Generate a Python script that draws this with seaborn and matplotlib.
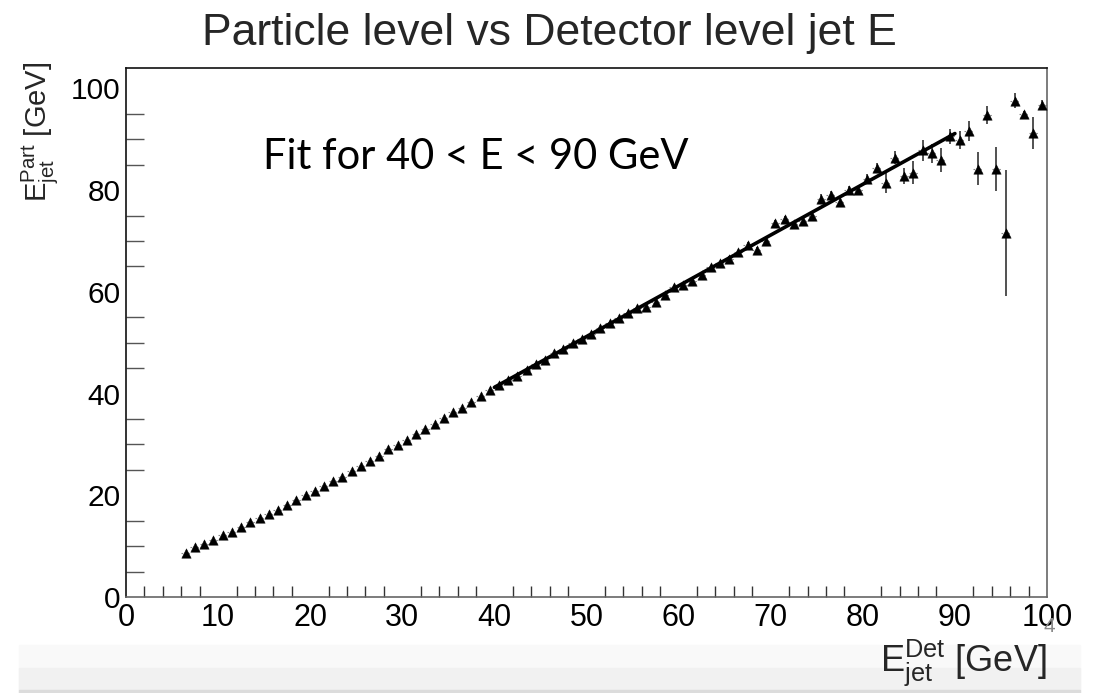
import numpy as np
import pandas as pd
import matplotlib
matplotlib.use("Agg")
import matplotlib.pyplot as plt
from matplotlib.patches import Rectangle
from matplotlib.ticker import MultipleLocator
import seaborn as sns

# ---------------- data ----------------
e_det = [6.5 + i for i in range(94)]  # bin centres, 1 GeV bins, 6.5 ... 99.5
e_part = [
    8.7, 9.9, 10.4, 11.2, 12.2, 12.8, 13.8, 14.7, 15.5, 16.3,
    17.2, 18.1, 19.1, 20.0, 20.9, 21.8, 22.8, 23.6, 24.8, 25.7,
    26.8, 27.8, 29.0, 29.9, 30.8, 32.0, 33.0, 34.0, 35.1, 36.3,
    37.2, 38.4, 39.5, 40.7, 41.7, 42.6, 43.5, 44.7, 45.8, 46.6,
    47.9, 48.8, 49.9, 50.8, 51.8, 52.8, 53.9, 54.8, 55.9, 56.9,
    57.0, 58.0, 59.3, 60.9, 61.3, 62.2, 63.4, 64.8, 65.6, 66.5,
    67.8, 69.2, 68.2, 70.0, 73.5, 74.4, 73.4, 73.9, 75.0, 78.3,
    79.0, 77.7, 80.0, 80.0, 82.1, 84.4, 81.4, 86.4, 82.8, 83.4,
    87.8, 87.2, 85.9, 90.6, 89.8, 91.6, 84.2, 94.7, 84.2, 71.6,
    97.6, 95.0, 91.2, 96.8,
]
e_part_err = [
    0.2, 0.2, 0.2, 0.2, 0.2, 0.2, 0.2, 0.2, 0.2, 0.2,
    0.2, 0.2, 0.2, 0.2, 0.2, 0.2, 0.2, 0.2, 0.2, 0.2,
    0.2, 0.2, 0.2, 0.2, 0.2, 0.2, 0.2, 0.2, 0.2, 0.2,
    0.2, 0.2, 0.3, 0.3, 0.3, 0.3, 0.3, 0.3, 0.3, 0.3,
    0.3, 0.3, 0.3, 0.3, 0.3, 0.3, 0.3, 0.3, 0.4, 0.4,
    0.4, 0.4, 0.4, 0.4, 0.4, 0.4, 0.5, 0.5, 0.5, 0.5,
    0.5, 0.5, 0.6, 0.6, 0.6, 0.6, 0.6, 0.6, 0.7, 1.0,
    0.8, 1.0, 0.8, 0.8, 1.0, 0.9, 1.9, 1.3, 1.6, 2.3,
    2.0, 1.8, 2.4, 1.5, 1.8, 1.9, 3.2, 1.8, 4.3, 12.4,
    1.4, 0.5, 3.1, 0.9,
]
fit_lo, fit_hi = 40, 90

title = "Particle level vs Detector level jet E"
xlabel = r"$\mathregular{E_{jet}^{Det}}$ [GeV]"
ylabel = r"$\mathregular{E_{jet}^{Part}}$ [GeV]"
note = "Fit for 40 < E < 90 GeV"
x_ticks = [0, 10, 20, 30, 40, 50, 60, 70, 80, 90, 100]
y_ticks = [0, 20, 40, 60, 80, 100]

df = pd.DataFrame({"det": e_det, "part": e_part, "err": e_part_err})

# ---------------- style ----------------
sns.set_theme(style="white")
plt.rcParams["font.family"] = ["Liberation Sans", "DejaVu Sans"]
plt.rcParams["mathtext.fontset"] = "custom"
plt.rcParams["mathtext.rm"] = "Liberation Sans"

fig = plt.figure(figsize=(10.99, 6.93), dpi=100)
fig.patch.set_facecolor("white")
ax = fig.add_axes([126 / 1099, 1 - 597 / 693, (1047 - 126) / 1099, (597 - 68) / 693])

# slide footer band
fig.patches.append(Rectangle((19 / 1099, 0), (1080 - 19) / 1099, (693 - 645) / 693,
                             transform=fig.transFigure, color="#f9f9f9", zorder=0))
fig.patches.append(Rectangle((19 / 1099, 3 / 693), (1080 - 19) / 1099, (668 - 645) / 693 - 0.002,
                             transform=fig.transFigure, color="#f1f1f1", zorder=0))
fig.patches.append(Rectangle((19 / 1099, 0), (1080 - 19) / 1099, 3 / 693,
                             transform=fig.transFigure, color="#dcdcdc", zorder=0))

# x "error" bars (bin half-width) – light dashed stubs
xe = ax.errorbar(df["det"], df["part"], xerr=0.5, fmt="none", ecolor="#888888",
                 elinewidth=0.8, zorder=2)
for lc in xe[2]:
    lc.set_linestyle((0, (1.5, 1.5)))
# y error bars
ax.errorbar(df["det"], df["part"], yerr=df["err"], fmt="none", ecolor="#222222",
            elinewidth=1.1, zorder=3)

# markers
sns.scatterplot(data=df, x="det", y="part", marker="^", s=46, color="black",
                edgecolor="black", linewidth=0.3, ax=ax, zorder=4, legend=False)

# linear fit in the fit window
sel = df[(df["det"] > fit_lo) & (df["det"] < fit_hi)]
coef = np.polyfit(sel["det"], sel["part"], 1, w=1 / sel["err"])
fx = np.array([fit_lo, fit_hi], dtype=float)
fit_df = pd.DataFrame({"x": fx, "y": np.polyval(coef, fx)})
sns.lineplot(data=fit_df, x="x", y="y", color="black", linewidth=2.6, ax=ax, zorder=5)

# axes
ax.set_xlim(0, 100)
ax.set_ylim(0, 104)
ax.set_xticks(x_ticks)
ax.set_yticks(y_ticks)
ax.xaxis.set_minor_locator(MultipleLocator(2))
ax.yaxis.set_minor_locator(MultipleLocator(5))
ax.tick_params(axis="x", which="major", direction="in", length=16, width=1,
               labelsize=22, pad=4, colors="#333333", labelcolor="black")
ax.tick_params(axis="x", which="minor", direction="in", length=8, width=1,
               colors="#333333", bottom=True)
ax.tick_params(axis="y", which="major", direction="in", length=27, width=1,
               labelsize=21.5, pad=4, colors="#333333", labelcolor="black")
ax.tick_params(axis="y", which="minor", direction="in", length=13, width=1,
               colors="#555555", left=True)
for side in ["top", "left"]:
    ax.spines[side].set_color("#111111")
for side in ["right", "bottom"]:
    ax.spines[side].set_color("#666666")
for s in ax.spines.values():
    s.set_linewidth(1.2)

ax.set_xlabel("")
ax.set_ylabel("")
fig.text(1047 / 1099, 1 - 663 / 693, xlabel, ha="right", va="center", fontsize=26)
fig.text(40 / 1099, 1 - 62 / 693, ylabel, ha="center", va="top", rotation=90, fontsize=21)
fig.text(0.5, 1 - 33 / 693, title, ha="center", va="center", fontsize=32)
fig.text(263 / 1099, 1 - 157 / 693, note, ha="left", va="center", fontsize=30,
         family=["Lato", "DejaVu Sans"], color="black")
fig.text(1049 / 1099, 1 - 627 / 693, "4", ha="center", va="center", fontsize=15,
         color="#8a8a8a")

fig.savefig("out.png", dpi=100)
